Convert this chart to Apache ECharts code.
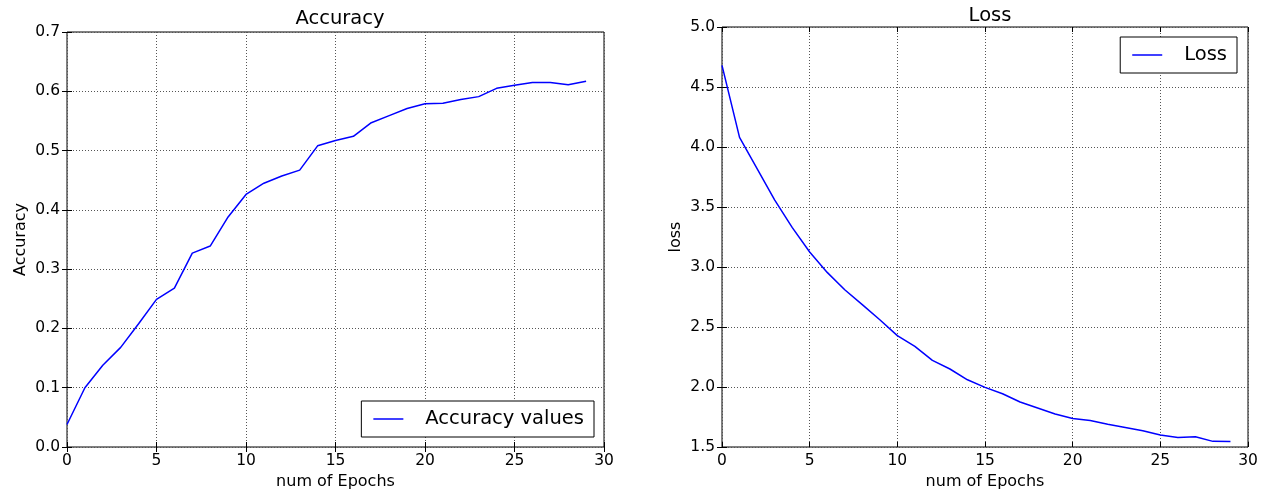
<!DOCTYPE html>
<html>
<head>
<meta charset="utf-8">
<script src="https://cdn.jsdelivr.net/npm/echarts@6/dist/echarts.min.js"></script>
<style>
  html, body { margin: 0; padding: 0; background: #fff; }
  #chart { width: 1262px; height: 495px; }
</style>
</head>
<body>
<div id="chart"></div>
<script>
// Training history over 30 epochs
const epochs = [0, 1, 2, 3, 4, 5, 6, 7, 8, 9, 10, 11, 12, 13, 14, 15, 16, 17, 18, 19, 20, 21, 22, 23, 24, 25, 26, 27, 28, 29];
const accuracyValues = [0.038, 0.100, 0.138, 0.168, 0.208, 0.249, 0.268, 0.327, 0.339, 0.388, 0.426, 0.445, 0.457, 0.467, 0.508, 0.517, 0.524, 0.547, 0.559, 0.571, 0.579, 0.580, 0.586, 0.591, 0.605, 0.610, 0.615, 0.615, 0.611, 0.617];
const lossValues = [4.68, 4.08, 3.82, 3.56, 3.33, 3.125, 2.955, 2.81, 2.686, 2.56, 2.428, 2.338, 2.222, 2.15, 2.06, 1.997, 1.944, 1.875, 1.825, 1.775, 1.738, 1.72, 1.69, 1.663, 1.636, 1.60, 1.58, 1.586, 1.547, 1.545];

const xTicks = { min: 0, max: 30, interval: 5 };
const accTicks = { min: 0, max: 0.7, interval: 0.1 };
const lossTicks = { min: 1.5, max: 5.0, interval: 0.5 };

const FONT = 'DejaVu Sans';
const TXT = '#000';

const pairs = (xs, ys) => xs.map((x, i) => [x, ys[i]]);

const gridDots = { show: true, lineStyle: { color: '#555', width: 1, type: [1, 2] } };
const tickIn = { show: true, inside: true, length: 5, lineStyle: { color: '#000', width: 1 } };

function bottomAxis(gridIndex) {
  return {
    type: 'value', gridIndex, position: 'bottom',
    min: xTicks.min, max: xTicks.max, interval: xTicks.interval,
    name: 'num of Epochs', nameLocation: 'middle', nameGap: 27,
    nameTextStyle: { fontFamily: FONT, fontSize: 16, color: TXT },
    axisLine: { show: false },
    axisTick: tickIn,
    axisLabel: { fontFamily: FONT, fontSize: 15.5, color: TXT, margin: 6 },
    splitLine: gridDots
  };
}
function topAxis(gridIndex) {
  return {
    type: 'value', gridIndex, position: 'top',
    min: xTicks.min, max: xTicks.max, interval: xTicks.interval,
    axisLine: { show: false }, axisTick: tickIn,
    axisLabel: { show: false }, splitLine: { show: false }
  };
}
function leftAxis(gridIndex, t, name, digits) {
  return {
    type: 'value', gridIndex, position: 'left',
    min: t.min, max: t.max, interval: t.interval,
    name, nameLocation: 'middle', nameGap: 38, nameRotate: 90,
    nameTextStyle: { fontFamily: FONT, fontSize: 16, color: TXT },
    axisLine: { show: false },
    axisTick: tickIn,
    axisLabel: { fontFamily: FONT, fontSize: 15.5, color: TXT, margin: 7,
                 formatter: v => v.toFixed(digits) },
    splitLine: gridDots
  };
}
function rightAxis(gridIndex, t) {
  return {
    type: 'value', gridIndex, position: 'right',
    min: t.min, max: t.max, interval: t.interval,
    axisLine: { show: false }, axisTick: tickIn,
    axisLabel: { show: false }, splitLine: { show: false }
  };
}

const legendBox = {
  orient: 'vertical',
  borderColor: '#000', borderWidth: 1, borderRadius: 0,
  backgroundColor: '#fff',
  padding: [8, 10, 8, 12],
  itemWidth: 30, itemHeight: 1.5,
  icon: 'rect',
  textStyle: { fontFamily: FONT, fontSize: 19.5, color: TXT, padding: [0, 0, 0, 17] }
};

const chart = echarts.init(document.getElementById('chart'), null, { renderer: 'canvas' });
chart.setOption({
  animation: false,
  backgroundColor: '#fff',
  title: [
    { text: 'Accuracy', left: 335, top: 4, textAlign: 'center',
      textStyle: { fontFamily: FONT, fontSize: 19.5, fontWeight: 'normal', color: TXT } },
    { text: 'Loss', left: 985, top: 1, textAlign: 'center',
      textStyle: { fontFamily: FONT, fontSize: 19.5, fontWeight: 'normal', color: TXT } }
  ],
  grid: [
    { left: 67, top: 32, right: 658, bottom: 48, show: true, borderColor: '#000', borderWidth: 1, backgroundColor: 'transparent' },
    { left: 722, top: 27, right: 14, bottom: 48, show: true, borderColor: '#000', borderWidth: 1, backgroundColor: 'transparent' }
  ],
  xAxis: [bottomAxis(0), topAxis(0), bottomAxis(1), topAxis(1)],
  yAxis: [
    leftAxis(0, accTicks, 'Accuracy', 1), rightAxis(0, accTicks),
    leftAxis(1, lossTicks, 'loss', 1), rightAxis(1, lossTicks)
  ],
  legend: [
    Object.assign({}, legendBox, { data: ['Accuracy values'], right: 668, bottom: 58 }),
    Object.assign({}, legendBox, { data: ['Loss'], right: 25, top: 37 })
  ],
  series: [
    { name: 'Accuracy values', type: 'line', xAxisIndex: 0, yAxisIndex: 0,
      data: pairs(epochs, accuracyValues), showSymbol: false, symbol: 'none',
      color: '#0000ff', lineStyle: { color: '#0000ff', width: 1.5 } },
    { name: 'Loss', type: 'line', xAxisIndex: 2, yAxisIndex: 2,
      data: pairs(epochs, lossValues), showSymbol: false, symbol: 'none',
      color: '#0000ff', lineStyle: { color: '#0000ff', width: 1.5 } }
  ]
});
</script>
</body>
</html>
